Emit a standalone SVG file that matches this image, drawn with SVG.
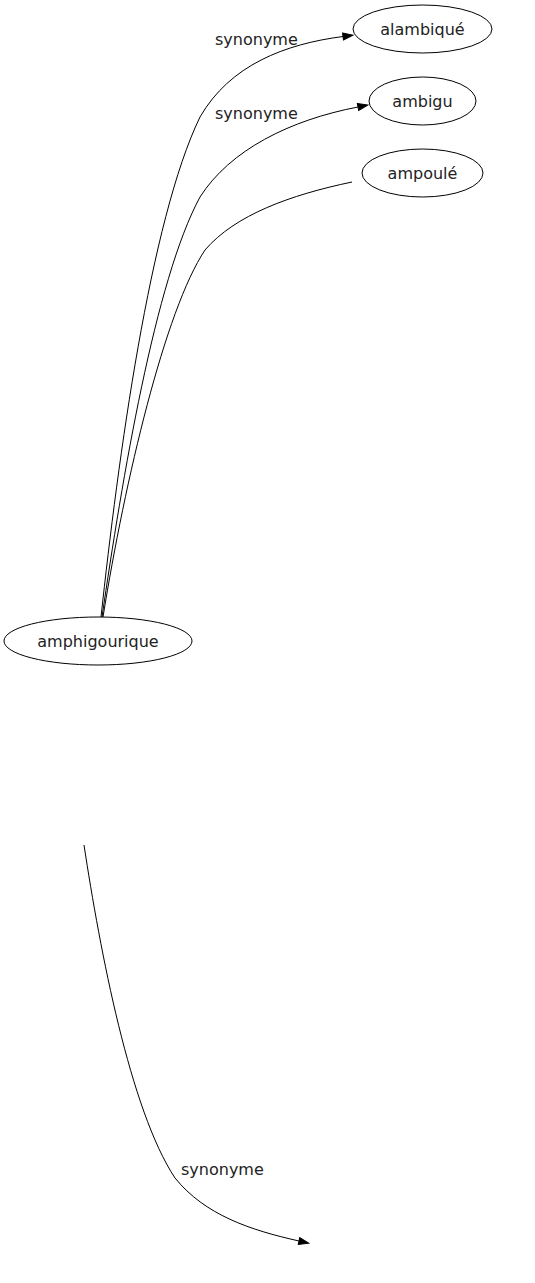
<svg xmlns="http://www.w3.org/2000/svg" width="535" height="1283" viewBox="0 0 535 1283">
<style>
  .node ellipse { fill: none; stroke: #000; stroke-width: 1; }
  .node text { font-family: "DejaVu Sans", sans-serif; font-size: 16px; fill: #222; text-anchor: middle; }
  .edge path { fill: none; stroke: #000; stroke-width: 1; }
  .lbl { font-family: "DejaVu Sans", sans-serif; font-size: 16px; fill: #222; }
</style>
<defs>
  <marker id="arrow" markerUnits="userSpaceOnUse" markerWidth="12" markerHeight="10" refX="0" refY="4" orient="auto" overflow="visible">
    <path d="M0,0.5 L10,4 L0,7.5 z" fill="#000" stroke="#000" stroke-width="1"/>
  </marker>
</defs>
<rect width="535" height="1283" fill="#fff"/>
<g id="connectors">
  <g class="edge" id="e1">
    <path d="M101,617 C118,460 150,220 200,117 C230,65 285,44 343,36.5" marker-end="url(#arrow)"/>
    <text class="lbl" x="215" y="45">synonyme</text>
  </g>
  <g class="edge" id="e2">
    <path d="M102,617 C122,480 155,280 200,197 C230,150 290,120 358,107" marker-end="url(#arrow)"/>
    <text class="lbl" x="215" y="119">synonyme</text>
  </g>
  <g class="edge" id="e3">
    <path d="M103,617 C125,480 165,310 205,250 C235,215 290,195 352,182"/>
  </g>
  <g class="edge" id="e4">
    <path d="M84,845 C100,950 130,1110 175,1178 C205,1215 250,1230 299,1241" marker-end="url(#arrow)"/>
    <text class="lbl" x="181" y="1175">synonyme</text>
  </g>
</g>
<g class="node" id="alambique">
  <ellipse cx="422.5" cy="29" rx="69.5" ry="24"/>
  <text x="422.5" y="35">alambiqué</text>
</g>
<g class="node" id="ambigu">
  <ellipse cx="422.5" cy="101" rx="53.5" ry="24"/>
  <text x="422.5" y="107">ambigu</text>
</g>
<g class="node" id="ampoule">
  <ellipse cx="422.5" cy="173" rx="60.5" ry="24"/>
  <text x="422.5" y="179">ampoulé</text>
</g>
<g class="node" id="amphigourique">
  <ellipse cx="98" cy="641" rx="94" ry="24"/>
  <text x="98" y="647">amphigourique</text>
</g>
</svg>
